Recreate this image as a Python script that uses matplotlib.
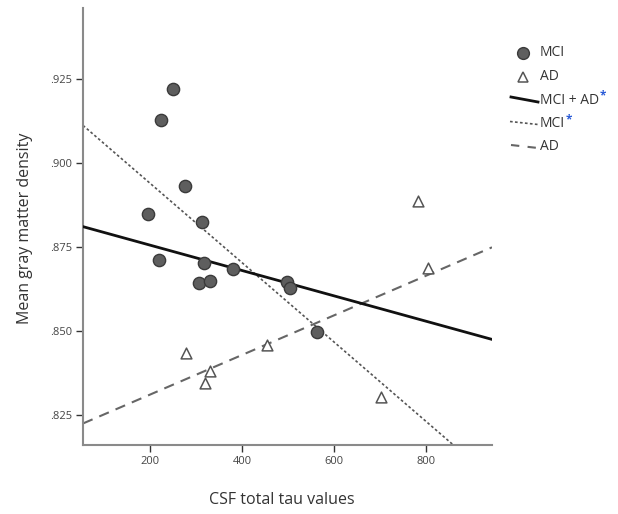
import numpy as np
import matplotlib
matplotlib.use("Agg")
import matplotlib.pyplot as plt
from matplotlib.lines import Line2D
from matplotlib.ticker import FuncFormatter

plt.rcParams['font.family'] = ['Open Sans', 'DejaVu Sans']

# Data
mci_tau = [249, 223, 275, 196, 312, 219, 317, 380, 307, 329, 497, 503, 563]
mci_gm = [0.9219, 0.9126, 0.8932, 0.8848, 0.8825, 0.8710, 0.8703, 0.8684,
          0.8642, 0.8648, 0.8645, 0.8628, 0.8498]
ad_tau = [278, 319, 329, 455, 701, 783, 804]
ad_gm = [0.8434, 0.8344, 0.8382, 0.8458, 0.8305, 0.8887, 0.8687]

# Fit lines (intercept, slope)
fit_all = (0.88304, -3.77e-5)
fit_mci = (0.91747, -1.18e-4)
fit_ad = (0.81932, 5.89e-5)

x_ticks = [200, 400, 600, 800]
y_ticks = [0.825, 0.850, 0.875, 0.900, 0.925]
xlim = (54, 943)
ylim = (0.8161, 0.946)

W, H = 618, 514
fig = plt.figure(figsize=(W / 100, H / 100), dpi=100)
ax = fig.add_axes([83 / W, 1 - 445 / H, (492 - 83) / W, (445 - 8) / H])

xs = np.array(xlim, dtype=float)
ax.plot(xs, fit_all[0] + fit_all[1] * xs, color='#111111', lw=2.0, zorder=3)
ax.plot(xs, fit_mci[0] + fit_mci[1] * xs, color='#555555', lw=1.2,
        linestyle=(0, (1.6, 1.4)), zorder=2)
ax.plot(xs, fit_ad[0] + fit_ad[1] * xs, color='#666666', lw=1.5,
        linestyle=(0, (5, 3.5)), zorder=2)

ax.scatter(mci_tau, mci_gm, s=78, marker='o', facecolor='#5e5e5e',
           edgecolor='#3a3a3a', linewidth=1.0, zorder=4)
ax.scatter(ad_tau, ad_gm, s=60, marker='^', facecolor='white',
           edgecolor='#555555', linewidth=1.1, zorder=4)

ax.set_xlim(*xlim)
ax.set_ylim(*ylim)
ax.set_xticks(x_ticks)
ax.set_yticks(y_ticks)
ax.yaxis.set_major_formatter(FuncFormatter(lambda v, p: f"{v:.3f}"[1:]))
ax.tick_params(axis='both', direction='out', length=5, width=1.0,
               color='#333333', labelsize=8, labelcolor='#444444', pad=3)
for s in ['top', 'right']:
    ax.spines[s].set_visible(False)
for s in ['left', 'bottom']:
    ax.spines[s].set_color('#8a8a8a')
    ax.spines[s].set_linewidth(1.5)

fig.text(25 / W, 1 - 228 / H, 'Mean gray matter density', rotation=90,
         ha='center', va='center', fontsize=11.5, color='#333333')
fig.text(282 / W, 1 - 500 / H, 'CSF total tau values', ha='center',
         va='center', fontsize=11.5, color='#333333')

# Manual legend
def fx(px):
    return px / W

def fy(py):
    return 1 - py / H

rows = [53, 76.5, 100, 123.5, 147]
labels = ['MCI', 'AD', 'MCI + AD', 'MCI', 'AD']
fig.add_artist(Line2D([fx(523)], [fy(rows[0])], marker='o', markersize=8.5,
                      markerfacecolor='#5e5e5e', markeredgecolor='#3a3a3a',
                      linestyle='none'))
fig.add_artist(Line2D([fx(523)], [fy(rows[1])], marker='^', markersize=7.5,
                      markerfacecolor='white', markeredgecolor='#555555',
                      markeredgewidth=1.1, linestyle='none'))
fig.add_artist(Line2D([fx(511), fx(538)], [fy(rows[2] - 3), fy(rows[2] + 2)],
                      color='#111111', lw=2.0))
fig.add_artist(Line2D([fx(510), fx(538)], [fy(rows[3] - 2), fy(rows[3] + 1)],
                      color='#555555', lw=1.2, linestyle=(0, (1.6, 1.4))))
fig.add_artist(Line2D([fx(511), fx(538)], [fy(rows[4] - 2), fy(rows[4] + 1)],
                      color='#666666', lw=1.5, linestyle=(0, (4, 4))))
texts = []
for r, lab in zip(rows, labels):
    t = fig.text(fx(540), fy(r), lab, ha='left', va='center', fontsize=10,
                 color='#333333')
    texts.append(t)

fig.canvas.draw()
renderer = fig.canvas.get_renderer()
for i in (2, 3):
    bb = texts[i].get_window_extent(renderer)
    fig.text(fx(bb.x1 + 1), fy(rows[i] - 4), '*', ha='left', va='center',
             fontsize=8.5, color='#2a5bd7', fontweight='bold')

fig.savefig('out.png', dpi=100)
